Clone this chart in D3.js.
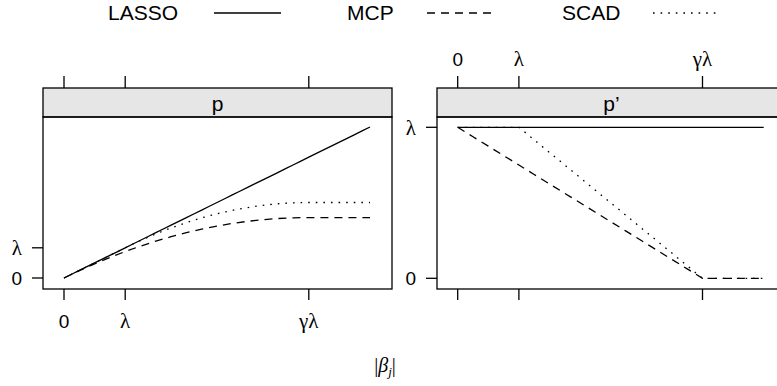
<!DOCTYPE html>
<html><head><meta charset="utf-8">
<script src="https://cdn.jsdelivr.net/npm/d3@7"></script>
<style>
body{margin:0;background:#fff;}
text{font-family:"Liberation Sans",Arial,sans-serif;fill:#000;}
.greek{font-family:"Liberation Serif","DejaVu Serif",serif;}
</style></head><body>
<svg id="c" width="777" height="386"></svg>
<script>
// ---- data (lambda = 1, gamma*lambda = 4) ----
const theta = [0,0.25,0.5,0.75,1,1.25,1.5,1.75,2,2.25,2.5,2.75,3,3.25,3.5,3.75,4,4.25,4.5,4.75,5];
const lassoP = [0,0.25,0.5,0.75,1,1.25,1.5,1.75,2,2.25,2.5,2.75,3,3.25,3.5,3.75,4,4.25,4.5,4.75,5];
const mcpP   = [0,0.242,0.469,0.680,0.875,1.055,1.219,1.367,1.5,1.617,1.719,1.805,1.875,1.930,1.969,1.992,2,2,2,2,2];
const scadP  = [0,0.25,0.5,0.75,1,1.240,1.458,1.656,1.833,1.990,2.125,2.240,2.333,2.406,2.458,2.490,2.5,2.5,2.5,2.5,2.5];
const lassoD = [1,1,1,1,1,1,1,1,1,1,1,1,1,1,1,1,1,1,1,1,1];
const mcpD   = [1,0.9375,0.875,0.8125,0.75,0.6875,0.625,0.5625,0.5,0.4375,0.375,0.3125,0.25,0.1875,0.125,0.0625,0,0,0,0,0];
const scadD  = [1,1,1,1,1,0.917,0.833,0.75,0.667,0.583,0.5,0.417,0.333,0.25,0.167,0.083,0,0,0,0,0];
const xTickVals = [0,1,4];
const xTickLabels = ["0","λ","γλ"];
const yTickValsP = [0,1];
const yTickValsD = [0,1];
const yTickLabels = ["0","λ"];
const panelNames = ["p","p’"];
const seriesNames = ["LASSO","MCP","SCAD"];

const svg = d3.select("#c");
const dashes = {LASSO:null, MCP:"8,6", SCAD:"1.6,6"};
const LW = 1.3;

// panel geometry
const panels = [
  {x0:43, x1:392, stripTop:88, top:117, bottom:289, xr:[64,370], yd:[0,5], yr:[278,127],
   series:[lassoP,mcpP,scadP], yt:yTickValsP, curve:d3.curveMonotoneX, name:panelNames[0], xlabSide:"bottom"},
  {x0:437, x1:786, stripTop:88, top:117, bottom:289, xr:[457.7,763.7], yd:[0,1], yr:[278.3,127.3],
   series:[lassoD,mcpD,scadD], yt:yTickValsD, curve:d3.curveLinear, name:panelNames[1], xlabSide:"top"}
];

panels.forEach(P => {
  const x = d3.scaleLinear().domain([0,5]).range(P.xr);
  const y = d3.scaleLinear().domain(P.yd).range(P.yr);
  const g = svg.append("g");
  const cid = "clip"+P.x0;
  svg.append("clipPath").attr("id",cid).append("rect")
    .attr("x",P.x0).attr("y",P.top).attr("width",P.x1-P.x0).attr("height",P.bottom-P.top);
  P.series.forEach((vals,i) => {
    const line = d3.line().x((d,j)=>x(theta[j])).y(d=>y(d)).curve(P.curve);
    g.append("path").attr("d", line(vals)).attr("clip-path",`url(#${cid})`)
      .attr("fill","none").attr("stroke","#000").attr("stroke-width",LW)
      .attr("stroke-dasharray", dashes[seriesNames[i]]);
  });
  g.append("rect").attr("x",P.x0).attr("y",P.stripTop).attr("width",P.x1-P.x0).attr("height",P.top-P.stripTop)
    .attr("fill","#e6e6e6").attr("stroke","#000").attr("stroke-width",1.3);
  g.append("text").attr("x",(P.x0+P.x1)/2).attr("y",111).attr("text-anchor","middle")
    .style("font-size","21px").text(P.name);
  g.append("rect").attr("x",P.x0).attr("y",P.top).attr("width",P.x1-P.x0).attr("height",P.bottom-P.top)
    .attr("fill","none").attr("stroke","#000").attr("stroke-width",1.3);
  xTickVals.forEach((v,i) => {
    g.append("line").attr("x1",x(v)).attr("x2",x(v)).attr("y1",76).attr("y2",P.stripTop).attr("stroke","#000").attr("stroke-width",1.3);
    g.append("line").attr("x1",x(v)).attr("x2",x(v)).attr("y1",P.bottom).attr("y2",P.bottom+11).attr("stroke","#000").attr("stroke-width",1.3);
    const ty = P.xlabSide==="bottom" ? 328 : 66;
    g.append("text").attr("x",x(v)).attr("y",ty).attr("text-anchor","middle")
      .attr("class", i===0 ? null : "greek").style("font-size", i===0 ? "19px" : "21px").text(xTickLabels[i]);
  });
  P.yt.forEach((v,i) => {
    g.append("line").attr("x1",P.x0-11).attr("x2",P.x0).attr("y1",y(v)).attr("y2",y(v)).attr("stroke","#000").attr("stroke-width",1.3);
    g.append("text").attr("x",P.x0-21).attr("y",y(v)).attr("dy","0.35em").attr("text-anchor","end")
      .attr("class", i===0 ? null : "greek").style("font-size", i===0 ? "19px" : "21px").text(yTickLabels[i]);
  });
});

const legend = [
  {name:seriesNames[0], tx:108, lx:[214,281]},
  {name:seriesNames[1], tx:347, lx:[427,494]},
  {name:seriesNames[2], tx:562, lx:[653,719]}
];
legend.forEach(L => {
  svg.append("text").attr("x",L.tx).attr("y",20).style("font-size","21px").text(L.name);
  svg.append("line").attr("x1",L.lx[0]).attr("x2",L.lx[1]).attr("y1",13).attr("y2",13)
    .attr("stroke","#000").attr("stroke-width",LW).attr("stroke-dasharray",dashes[L.name]);
});

const xl = svg.append("text").attr("x",385).attr("y",372).attr("text-anchor","middle")
  .style("font-family","'Liberation Serif','DejaVu Serif',serif").style("font-size","20px");
xl.append("tspan").text("|");
xl.append("tspan").style("font-style","italic").text("β");
xl.append("tspan").style("font-style","italic").style("font-size","13px").attr("dy","4").text("j");
xl.append("tspan").attr("dy","-4").text("|");
</script></body></html>
